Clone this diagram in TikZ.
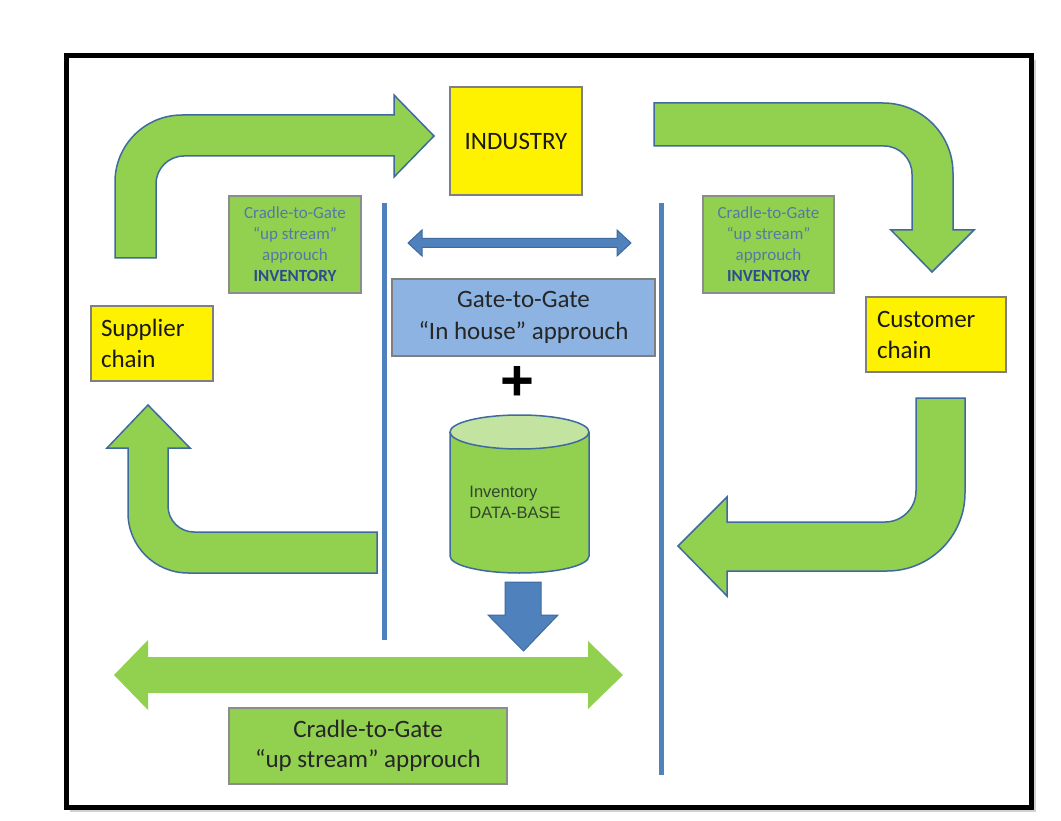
\documentclass[tikz,border=0pt]{standalone}
\usepackage{fontspec}
\setmainfont{Carlito}
\newfontfamily\arialfont{Liberation Sans}
\usetikzlibrary{positioning}
\definecolor{leaf}{HTML}{92D050}
\definecolor{leaflight}{HTML}{C3E3A0}
\definecolor{edgeblue}{HTML}{3F6A9E}
\definecolor{lineblue}{HTML}{4F81BD}
\definecolor{skyblue}{HTML}{8DB3E2}
\definecolor{boxgray}{HTML}{7F7F7F}
\definecolor{fadedblue}{RGB}{85,120,165}
\definecolor{inkblue}{RGB}{45,75,145}
\definecolor{dbink}{RGB}{50,70,45}
\tikzset{yellowbox/.style = {draw=boxgray, fill=yellow, line width=1.2pt, text=black!90, font=\fontsize{25}{31}\selectfont}}
\tikzset{chainbox/.style = {yellowbox, align=left, inner xsep=10pt, minimum height=75pt}}
\tikzset{upnote/.style = {draw=black!45, fill=leaf, line width=1.2pt, minimum width=132pt, minimum height=97pt, align=center, text=fadedblue, font=\fontsize{17}{21}\selectfont}}
\tikzset{gatebox/.style = {draw=boxgray, fill=skyblue, line width=1.2pt, minimum width=263pt, minimum height=77pt, align=center, text=black!85, font=\fontsize{25}{32}\selectfont}}
\tikzset{cradlebox/.style = {draw=black!45, fill=leaf, line width=1.2pt, minimum width=278pt, minimum height=76pt, align=center, text=black!85, font=\fontsize{25}{30}\selectfont}}
\tikzset{dbtext/.style = {align=left, text=dbink, font=\arialfont\fontsize{16.5}{21}\selectfont}}
\tikzset{plussign/.style = {inner sep=0pt, font=\arialfont\bfseries\fontsize{58}{60}\selectfont}}
\tikzset{bigarrow/.style = {fill=leaf, draw=edgeblue, line width=1.5pt}}
\tikzset{flatarrow/.style = {fill=leaf}}
\tikzset{bluearrow/.style = {fill=lineblue, draw=edgeblue, line width=1pt}}
\tikzset{divider/.style = {draw=lineblue, line width=5pt}}

\begin{document}
\begin{tikzpicture}[x=1pt, y=-1pt, line join=miter]
  \useasboundingbox (0,0) rectangle (1061,821);
  % frame with shadow
  \fill[black!18] (70,60) rectangle (1036,812);
  \fill[white] (66,56) rectangle (1031,807);
  \draw[line width=5pt] (66,56) rectangle (1031,807);

  % separators
  \coordinate (sepL top) at (384,203);
  \coordinate (sepL bot) at (384,640);
  \coordinate (sepR top) at (661.5,203);
  \coordinate (sepR bot) at (661.5,775);
  \draw[divider] (sepL top) -- (sepL bot);
  \draw[divider] (sepR top) -- (sepR bot);

  % bent arrows round the loop
  \draw[bigarrow] (115,258) [rounded corners=67pt] -- (115,115) [sharp corners] -- (394,115) -- (394,95)
    -- (434,136) -- (394,177) -- (394,156) [rounded corners=28pt] -- (156,156) [sharp corners] -- (156,258) -- cycle;
  \draw[bigarrow] (654,103) [rounded corners=70pt] -- (953,103) [sharp corners] -- (953,230) -- (974,230)
    -- (932,272) -- (891,230) -- (912,230) [rounded corners=28pt] -- (912,146) [sharp corners] -- (654,146) -- cycle;
  \draw[bigarrow] (916,398) -- (965,398) [rounded corners=78pt] -- (965,571) [sharp corners] -- (727,571) -- (727,596)
    -- (678,546) -- (727,497) -- (727,522) [rounded corners=31pt] -- (916,522) [sharp corners] -- cycle;
  \draw[bigarrow] (148,405) -- (190,448) -- (168,448) [rounded corners=26pt] -- (168,532) [sharp corners] -- (377,532)
    -- (377,573) [rounded corners=60pt] -- (128,573) [sharp corners] -- (128,448) -- (107,448) -- cycle;

  % two-way arrows
  \fill[flatarrow] (114,675) -- (148,640) -- (148,657) -- (588,657) -- (588,641) -- (623,675)
    -- (588,709) -- (588,693) -- (148,693) -- (148,710) -- cycle;
  \draw[bluearrow] (408,243) -- (422,230) -- (422,238.5) -- (617,238.5) -- (617,230) -- (631,243)
    -- (617,256) -- (617,247.5) -- (422,247.5) -- (422,256) -- cycle;

  % boxes
  \node[yellowbox, minimum width=132pt, minimum height=108pt] (industry) at (516,141) {INDUSTRY};
  \node[chainbox, text width=102pt] (supplier) at (152,343.5) {Supplier\\chain};
  \node[chainbox, text width=118pt, inner xsep=11pt] (customer) at (936,334.5) {Customer\\chain};
  \node[upnote] (upL) at (295,244.5) {Cradle-to-Gate\\“up stream”\\approuch\\{\bfseries\color{inkblue}INVENTORY}};
  \node[upnote, minimum width=131pt] (upR) at (768.5,244.5) {Cradle-to-Gate\\“up stream”\\approuch\\{\bfseries\color{inkblue}INVENTORY}};
  \node[gatebox] (gate) at (523.5,317.5) {Gate-to-Gate\\“In house” approuch};
  \node[plussign] (plus) at (517,383) {+};
  \node[cradlebox] (cradle) at (368,746) {Cradle-to-Gate\\“up stream” approuch};

  % data base cylinder
  \fill[leaf] (450,432) rectangle (589,556);
  \fill[leaf] (519.5,556) ellipse (69.5 and 17);
  \draw[edgeblue, line width=1.5pt] (450,432) -- (450,556) .. controls (450,565.4) and (481.1,573) .. (519.5,573)
    .. controls (557.9,573) and (589,565.4) .. (589,556) -- (589,432);
  \draw[edgeblue, line width=1.5pt, fill=leaflight] (519.5,432) ellipse (69.5 and 17);
  \node[dbtext] (db) at (515,502) {Inventory\\DATA-BASE};

  % out of the data base
  \draw[bluearrow] (505,582) -- (541,582) -- (541,615) -- (558,615) -- (523.5,651) -- (488,615) -- (505,615) -- cycle;
\end{tikzpicture}
\end{document}
